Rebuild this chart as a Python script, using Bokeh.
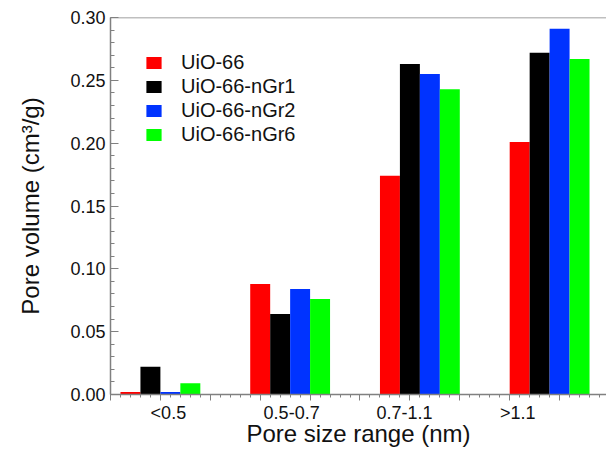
from bokeh.plotting import figure
from bokeh.models import (ColumnDataSource, FixedTicker, LinearAxis, Legend, LegendItem,
                          Span, Range1d, PrintfTickFormatter)
from bokeh.embed import file_html
from bokeh.resources import INLINE

# ---- data ----
categories = ["<0.5", "0.5-0.7", "0.7-1.1", ">1.1"]
series_names = ["UiO-66", "UiO-66-nGr1", "UiO-66-nGr2", "UiO-66-nGr6"]
uio66 = [0.002, 0.088, 0.174, 0.201]
uio66_ngr1 = [0.022, 0.064, 0.263, 0.272]
uio66_ngr2 = [0.002, 0.084, 0.255, 0.291]
uio66_ngr6 = [0.009, 0.076, 0.243, 0.267]
y_ticks = [0.00, 0.05, 0.10, 0.15, 0.20, 0.25, 0.30]

# ---- layout / style ----
series_values = [uio66, uio66_ngr1, uio66_ngr2, uio66_ngr6]
colors = ["#ff0000", "#000000", "#0033ff", "#00ff00"]
group_x = [1.0 + 2.6 * i for i in range(len(categories))]
offsets = [-0.6, -0.2, 0.2, 0.6]
bar_w = 0.4
label_x = [1.16, 3.63, 5.89, 8.16]
FONT = "Liberation Sans"
AX = "#808080"
TXT = "#111111"

p = figure(width=606, height=449, output_backend="svg", toolbar_location=None,
           x_range=Range1d(0, 9.94), y_range=Range1d(0, 0.30),
           min_border_left=110, min_border_right=0, min_border_top=17, min_border_bottom=0)
p.outline_line_color = None
p.xgrid.visible = False
p.ygrid.visible = False
p.background_fill_color = "white"
p.border_fill_color = "white"

renderers = []
for vals, col, off in zip(series_values, colors, offsets):
    src = ColumnDataSource(dict(x=[g + off for g in group_x], top=vals))
    r = p.vbar(x="x", top="top", bottom=0, width=bar_w, source=src,
               fill_color=col, line_color=None)
    renderers.append(r)

# x axis A: tick marks only
xa = p.xaxis[0]
xa.ticker = FixedTicker(ticks=list(range(0, 10)),
                        minor_ticks=[round(i * 0.2, 1) for i in range(50)])
xa.major_label_text_font_size = "0px"
xa.major_label_standoff = 0
xa.major_label_overrides = {i: "" for i in range(0, 10)}
xa.axis_line_color = AX
xa.axis_line_width = 1.5
xa.major_tick_line_color = AX
xa.minor_tick_line_color = AX
xa.major_tick_out = 6
xa.major_tick_in = 0
xa.minor_tick_out = 3
xa.minor_tick_in = 0

# x axis B: category labels + title
xb = LinearAxis(ticker=FixedTicker(ticks=label_x),
                major_label_overrides={lx: c for lx, c in zip(label_x, categories)},
                axis_line_color=None, major_tick_line_color=None, minor_tick_line_color=None,
                major_tick_out=0, major_tick_in=0, minor_tick_out=0, minor_tick_in=0,
                major_label_standoff=2,
                major_label_text_font=FONT, major_label_text_font_size="18px",
                major_label_text_color=TXT,
                axis_label="Pore size range (nm)", axis_label_standoff=-6,
                axis_label_text_font=FONT, axis_label_text_font_size="24px",
                axis_label_text_font_style="normal", axis_label_text_color=TXT)
p.add_layout(xb, "below")

# y axis
ya = p.yaxis[0]
ya.ticker = FixedTicker(ticks=y_ticks, minor_ticks=[i / 100 for i in range(31)])
ya.formatter = PrintfTickFormatter(format="%.2f")
ya.axis_line_color = AX
ya.axis_line_width = 1.5
ya.major_tick_line_color = AX
ya.minor_tick_line_color = AX
ya.major_tick_in = 8
ya.major_tick_out = 0
ya.minor_tick_in = 4
ya.minor_tick_out = 0
ya.major_label_standoff = 5
ya.major_label_text_font = FONT
ya.major_label_text_font_size = "18px"
ya.major_label_text_color = TXT
ya.axis_label = "Pore volume (cm³/g)"
ya.axis_label_standoff = 23
ya.axis_label_text_font = FONT
ya.axis_label_text_font_size = "24px"
ya.axis_label_text_font_style = "normal"
ya.axis_label_text_color = TXT

# top border line
p.add_layout(Span(location=0.30, dimension="width", line_color=AX, line_width=1.5))

legend = Legend(items=[LegendItem(label=n, renderers=[r]) for n, r in zip(series_names, renderers)],
                location="top_left", margin=34, padding=0, spacing=1,
                glyph_width=19, glyph_height=15, label_height=20, label_standoff=18,
                label_text_font=FONT, label_text_font_size="20px", label_text_color=TXT,
                border_line_color=None, background_fill_alpha=0)
p.add_layout(legend)

open("out.html", "w").write(file_html(p, INLINE))
